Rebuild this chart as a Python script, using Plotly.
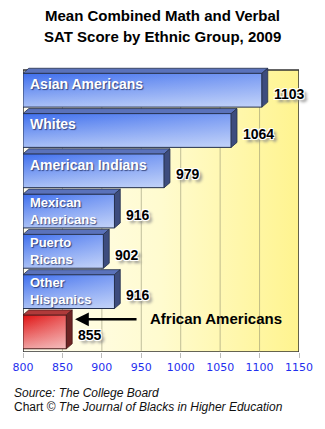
import plotly.graph_objects as go

# ---------------- data ----------------
categories = ["Asian Americans", "Whites", "American Indians", "Mexican Americans",
              "Puerto Ricans", "Other Hispanics", "African Americans"]
label_text = ["Asian Americans", "Whites", "American Indians",
              "Mexican<br>Americans", "Puerto<br>Ricans", "Other<br>Hispanics", ""]
values = [1103, 1064, 979, 916, 902, 916, 855]
tick_vals = [800, 850, 900, 950, 1000, 1050, 1100, 1150]
title_lines = ["Mean Combined Math and Verbal", "SAT Score by Ethnic Group, 2009"]
source_line = "Source: The College Board"
credit_line = "Chart © <i>The Journal of Blacks in Higher Education</i>"
callout = "African Americans"

# ---------------- geometry ----------------
W, H = 325, 429
ML, MR, MT, MB = 18, 22, 62, 77
XMIN, XMAX = 800, 1150
YMIN, YMAX = -0.5, 6.7
PW, PH = W - ML - MR, H - MT - MB
PXX = PW / (XMAX - XMIN)      # px per x unit
PXY = PH / (YMAX - YMIN)      # px per y unit
BW = 0.84
DX = 6 / PXX                  # 3-D depth in data units
DY = 5 / PXY

def px2x(px):
    return (px - ML) / PW

def py2y(py):
    return (MT + PH - py) / PH

n = len(categories)
ys = [n - 1 - i for i in range(n)]

FONT = "Liberation Sans, Arial, sans-serif"

fig = go.Figure()

# back wall
fig.add_trace(go.Scatter(
    x=[XMIN, XMAX, XMAX, XMIN, XMIN], y=[-0.5, -0.5, n - 0.5, n - 0.5, -0.5],
    mode="lines", fill="toself", line=dict(color="#333333", width=1.5),
    fillgradient=dict(type="horizontal", colorscale=[[0, "#fffdf0"], [0.5, "#fffbcf"], [1, "#fff48f"]]),
    hoverinfo="skip", showlegend=False))

# gridlines
gx, gy = [], []
for t in tick_vals[1:-1]:
    gx += [t, t, None]
    gy += [-0.5, n - 0.5, None]
fig.add_trace(go.Scatter(x=gx, y=gy, mode="lines",
                         line=dict(color="rgba(140,140,110,0.55)", width=1),
                         hoverinfo="skip", showlegend=False))

front_scales = [[[0, "#a9c0f6"], [1, "#3f6fee"]]] * (n - 1) + [[[0, "#f0a0a0"], [1, "#e01010"]]]
top_cols = ["#5a72bb"] * (n - 1) + ["#b03a3a"]
side_cols = ["#3d4c7e"] * (n - 1) + ["#6e2424"]
edge_cols = ["#24304d"] * (n - 1) + ["#4a1a1a"]

for i, v in enumerate(values):
    y0, y1 = ys[i] - BW / 2, ys[i] + BW / 2
    # front face (vertical gradient)
    fig.add_trace(go.Scatter(
        x=[XMIN, v, v, XMIN, XMIN], y=[y0, y0, y1, y1, y0], mode="lines",
        line=dict(width=0), fill="toself",
        fillgradient=dict(type="vertical", colorscale=front_scales[i]),
        hovertext=f"{categories[i]}: {v}", hoverinfo="text", showlegend=False))
    # horizontal sheen + outline
    fig.add_trace(go.Scatter(
        x=[XMIN, v, v, XMIN, XMIN], y=[y0, y0, y1, y1, y0], mode="lines",
        line=dict(color=edge_cols[i], width=1), fill="toself",
        fillgradient=dict(type="horizontal",
                          colorscale=[[0, "rgba(255,255,255,0.0)"], [1, "rgba(255,255,255,0.3)"]]),
        hoverinfo="skip", showlegend=False))
    # top face
    fig.add_trace(go.Scatter(
        x=[XMIN, v, v + DX, XMIN + DX, XMIN], y=[y1, y1, y1 + DY, y1 + DY, y1],
        mode="lines", fill="toself", fillcolor=top_cols[i],
        line=dict(color=edge_cols[i], width=0.8), hoverinfo="skip", showlegend=False))
    # side face
    fig.add_trace(go.Scatter(
        x=[v, v + DX, v + DX, v, v], y=[y0, y0 + DY, y1 + DY, y1, y0],
        mode="lines", fill="toself", fillcolor=side_cols[i],
        line=dict(color=edge_cols[i], width=0.8), hoverinfo="skip", showlegend=False))

annotations = []
# category names inside bars
for i, t in enumerate(label_text):
    if not t:
        continue
    two = "<br>" in t
    annotations.append(dict(
        x=XMIN + 5 / PXX, y=ys[i] + (0.5 if two else 6) / PXY, xref="x", yref="y", text=t,
        showarrow=False, xanchor="left", yanchor="middle", align="left",
        font=dict(family=FONT, size=13 if two else 14, color="white", weight="bold",
                  shadow="1px 1px 1px rgba(20,30,80,0.7)")))
# value labels
for i, v in enumerate(values):
    annotations.append(dict(
        x=v + DX + 4 / PXX, y=ys[i] - 3.5 / PXY, xref="x", yref="y", text=str(v),
        showarrow=False, xanchor="left", yanchor="middle",
        font=dict(family=FONT, size=14, color="black", weight="bold",
                  shadow="1px 1px 0 #fff, -1px -1px 0 #fff, 1px -1px 0 #fff, -1px 1px 0 #fff, 3px 3px 3px #888")))
# callout arrow + text
ia = len(values) - 1
annotations.append(dict(
    x=values[ia] + DX + 3 / PXX, y=ys[ia] + 12.5 / PXY, xref="x", yref="y",
    ax=values[ia] + DX + 68 / PXX, ay=ys[ia] + 12.5 / PXY, axref="x", ayref="y",
    text="", showarrow=True, arrowhead=2, arrowsize=1.1, arrowwidth=2.5, arrowcolor="black"))
annotations.append(dict(
    x=px2x(147), y=py2y(318), xref="paper", yref="paper", text=callout,
    showarrow=False, xanchor="left", yanchor="middle",
    font=dict(family=FONT, size=15, color="black", weight="bold")))
# title
for k, t in enumerate(title_lines):
    annotations.append(dict(
        x=px2x(162.5), y=py2y(15 + 22 * k), xref="paper", yref="paper", text=t,
        showarrow=False, xanchor="center", yanchor="middle",
        font=dict(family=FONT, size=15, color="black", weight="bold")))
# source lines
annotations.append(dict(
    x=px2x(7), y=py2y(393), xref="paper", yref="paper", text="<i>" + source_line + "</i>",
    showarrow=False, xanchor="left", yanchor="middle",
    font=dict(family=FONT, size=12, color="#111111")))
annotations.append(dict(
    x=px2x(7), y=py2y(407), xref="paper", yref="paper", text=credit_line,
    showarrow=False, xanchor="left", yanchor="middle",
    font=dict(family=FONT, size=12, color="#111111")))

fig.update_layout(
    width=W, height=H,
    margin=dict(l=ML, r=MR, t=MT, b=MB, pad=0),
    paper_bgcolor="white", plot_bgcolor="white",
    showlegend=False,
    annotations=annotations,
    xaxis=dict(range=[XMIN, XMAX], tickvals=tick_vals, ticktext=[str(t) for t in tick_vals],
               showgrid=False, zeroline=False, showline=False,
               ticks="outside", ticklen=5, tickcolor="#bbbbbb", tickwidth=1,
               tickfont=dict(family="DejaVu Sans, Verdana, sans-serif", size=11, color="#1f2fee"),
               fixedrange=True),
    yaxis=dict(range=[YMIN, YMAX], visible=False, fixedrange=True),
)

fig.write_html("out.html")
